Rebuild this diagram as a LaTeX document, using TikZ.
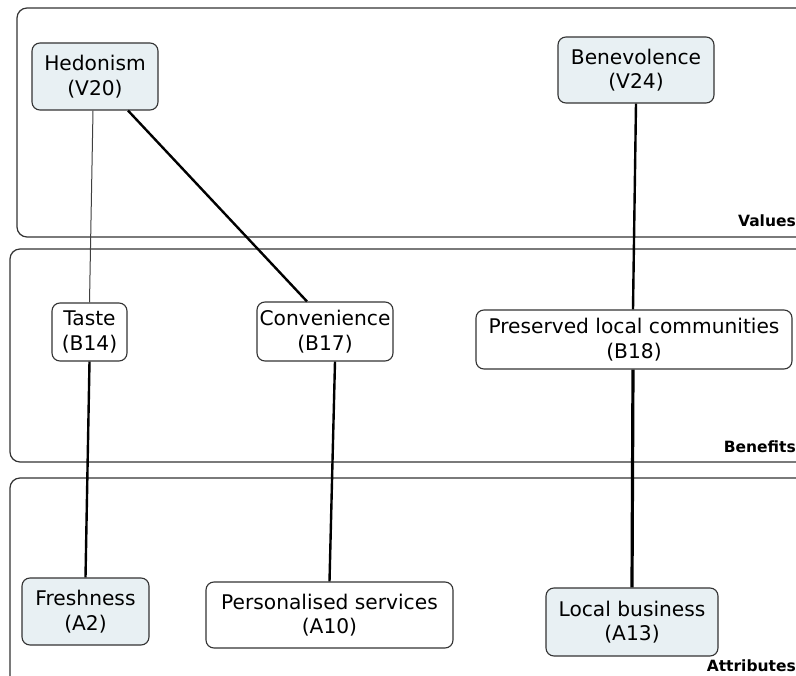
\documentclass[tikz,border=0pt]{standalone}
\usepackage{fontspec}
\setmainfont{DejaVu Sans}
\definecolor{conceptfill}{RGB}{232,240,243}
\begin{document}
\begin{tikzpicture}[x=1pt,y=-1pt,
  panel/.style={draw=black!80, line width=1.2pt, rounded corners=10pt},
  concept/.style={draw=black!80, line width=1.1pt, rounded corners=8pt, align=center,
    font=\fontsize{20.2}{24.5}\selectfont, inner sep=0pt, anchor=center},
  shaded/.style={concept, fill=conceptfill},
  level/.style={font=\bfseries\fontsize{15.5}{18}\selectfont, anchor=base east, inner sep=0pt},
  thin link/.style={draw=black!75, line width=1pt},
  link/.style={draw=black, line width=2.4pt},
  heavy link/.style={draw=black, line width=3.2pt}]
\useasboundingbox (0,0) rectangle (796,676);
\fill[white] (0,0) rectangle (796,676);

% layer panels (they run off the right edge)
\draw[panel] (17,8) rectangle (830,237);
\draw[panel] (10,249) rectangle (830,462);
\draw[panel] (10,478) rectangle (830,700);

\node[level] (lv) at (796,227) {Values};
\node[level] (lb) at (796,453) {Benefits};
\node[level] (la) at (796,671) {Attributes};

% concepts
\node[shaded, minimum width=126pt, minimum height=67pt] (hed) at (95,76.5) {Hedonism\\(V20)};
\node[shaded, minimum width=156pt, minimum height=66pt] (ben) at (636,70) {Benevolence\\(V24)};
\node[concept, minimum width=75pt, minimum height=58pt] (taste) at (89.5,332) {Taste\\(B14)};
\node[concept, minimum width=136pt, minimum height=59pt] (conv) at (325,331.5) {Convenience\\(B17)};
\node[concept, minimum width=316pt, minimum height=59pt] (pres) at (634,339.5) {Preserved local communities\\(B18)};
\node[shaded, minimum width=127pt, minimum height=67pt] (fresh) at (85.5,611.5) {Freshness\\(A2)};
\node[concept, minimum width=247pt, minimum height=66pt] (pers) at (329.5,615) {Personalised services\\(A10)};
\node[shaded, minimum width=172pt, minimum height=68pt] (loc) at (632,622) {Local business\\(A13)};

% links
\draw[thin link] ([xshift=-2pt]hed.south) -- (taste.north);
\draw[link] ([xshift=33pt]hed.south) -- ([xshift=-18pt]conv.north);
\draw[link] (ben.south) -- ([xshift=-1pt]pres.north);
\draw[link] (taste.south) -- (fresh.north);
\draw[link] ([xshift=10pt]conv.south) -- (pers.north);
\draw[heavy link] ([xshift=-1pt]pres.south) -- (loc.north);
\end{tikzpicture}
\end{document}
